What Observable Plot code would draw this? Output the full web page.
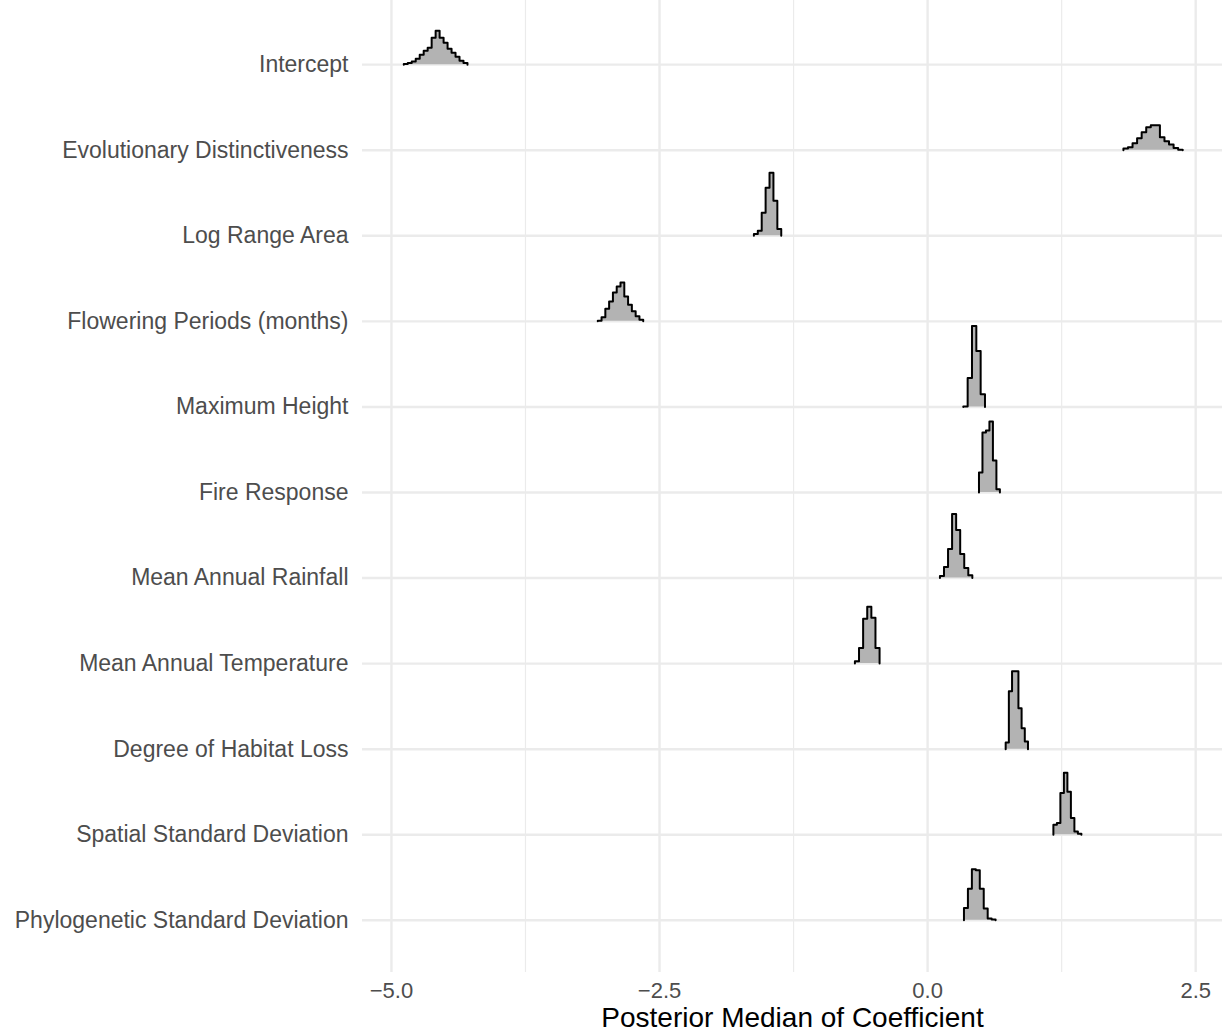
<!DOCTYPE html>
<html><head><meta charset="utf-8">
<script src="https://cdn.jsdelivr.net/npm/d3@7"></script>
<script src="https://cdn.jsdelivr.net/npm/@observablehq/plot@0.6"></script>
<style>
body{margin:0;background:#fff;font-family:"Liberation Sans",Arial,sans-serif;}
</style>
</head><body><div id="chart"></div>
<script>
// ---- data ----
const terms = [
  "Intercept",
  "Evolutionary Distinctiveness",
  "Log Range Area",
  "Flowering Periods (months)",
  "Maximum Height",
  "Fire Response",
  "Mean Annual Rainfall",
  "Mean Annual Temperature",
  "Degree of Habitat Loss",
  "Spatial Standard Deviation",
  "Phylogenetic Standard Deviation"
];
// left and right edge of each posterior histogram (coefficient units)
const binStart = [-4.885, 1.826, -1.620, -3.076, 0.333, 0.479, 0.115, -0.678, 0.728, 1.173, 0.339];
const binEnd   = [-4.291, 2.379, -1.365, -2.652, 0.535, 0.674, 0.417, -0.448, 0.936, 1.434, 0.634];
// bin heights (relative counts) of each histogram
const countsIntercept   = [0.7, 1.7, 3.3, 6, 10, 14, 17, 27, 34, 27, 22, 16, 12, 8, 4, 1.7];
const countsEvolution   = [1.7, 3, 7, 12, 18, 23, 25, 25, 13, 9, 5.7, 2.3, 0.6];
const countsRange       = [1.7, 5, 23, 48, 63, 35, 6.7];
const countsFlowering   = [0.7, 4, 12.7, 20, 29, 35, 39, 25, 16.7, 10, 5, 1.7];
const countsHeight      = [0.4, 29, 81, 56, 12.7];
const countsFire        = [20, 60, 62, 71, 32, 3.3];
const countsRainfall    = [2, 11, 29, 64, 48, 24, 10, 2.7];
const countsTemperature = [2.3, 15.7, 45, 57, 46, 15.7];
const countsHabitat     = [6.7, 58, 78, 78, 41, 21, 7.7];
const countsSpatial     = [10, 11.7, 41.7, 62, 43, 16.7, 3.3, 1];
const countsPhylo       = [12.3, 31.7, 51, 50, 31.7, 11.7, 1.7, 0.7];
const binCounts = [countsIntercept, countsEvolution, countsRange, countsFlowering, countsHeight,
  countsFire, countsRainfall, countsTemperature, countsHabitat, countsSpatial, countsPhylo];
const xTicks = [-5, -2.5, 0, 2.5];
const xMinorTicks = [-3.75, -1.25, 1.25];
const xLabel = "Posterior Median of Coefficient";

// ---- build ridgeline step outlines ----
const n = terms.length;
const ridgeScale = 0.946;
const maxCount = d3.max(binCounts.flat());
const pts = [];
terms.forEach((t, i) => {
  const base = n - 1 - i;
  const c = binCounts[i];
  const bw = (binEnd[i] - binStart[i]) / c.length;
  const k = ridgeScale / maxCount;
  pts.push({term: t, x: binStart[i], base, y: base});
  c.forEach((v, j) => {
    pts.push({term: t, x: binStart[i] + j * bw, base, y: base + v * k});
    pts.push({term: t, x: binStart[i] + (j + 1) * bw, base, y: base + v * k});
  });
  pts.push({term: t, x: binEnd[i], base, y: base});
});

const chart = Plot.plot({
  width: 1226,
  height: 1035,
  marginLeft: 362,
  marginRight: 4,
  marginTop: 0,
  marginBottom: 63,
  style: {fontFamily: "'Liberation Sans', Arial, sans-serif", color: "#4d4d4d", background: "white"},
  x: {domain: [-5.27, 2.75]},
  y: {domain: [-0.61, 10.75]},
  marks: [
    Plot.gridX(xMinorTicks, {stroke: "#ebebeb", strokeOpacity: 1, strokeWidth: 1.2}),
    Plot.gridX(xTicks, {stroke: "#ebebeb", strokeOpacity: 1, strokeWidth: 2.4}),
    Plot.gridY(d3.range(n), {stroke: "#ebebeb", strokeOpacity: 1, strokeWidth: 2.4}),
    Plot.areaY(pts, {x: "x", y1: "base", y2: "y", z: "term", fill: "#b3b3b3", curve: "linear"}),
    Plot.line(pts, {x: "x", y: "y", z: "term", stroke: "black", strokeWidth: 2, curve: "linear"}),
    Plot.axisY(d3.range(n), {tickFormat: d => terms[n - 1 - d], tickSize: 0, tickPadding: 14, fontSize: 23, label: null}),
    Plot.axisX(xTicks, {tickFormat: d3.format(".1f"), tickSize: 0, tickPadding: 10, fontSize: 22, label: null}),
    Plot.text([xLabel], {frameAnchor: "bottom", dy: 46, lineAnchor: "middle", fontSize: 28, fill: "black"})
  ]
});
document.getElementById("chart").append(chart);
</script>
</body></html>
